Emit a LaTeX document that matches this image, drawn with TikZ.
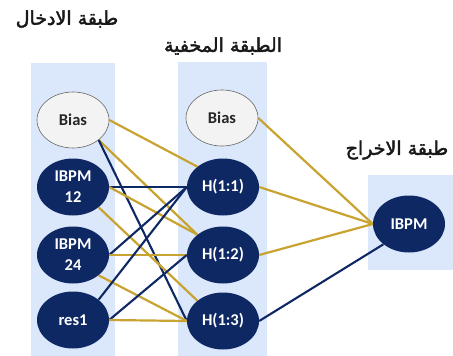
\documentclass[tikz,border=0pt]{standalone}
\usepackage{fontspec}
\setsansfont{Carlito}
\newfontfamily\arabicfont[Script=Arabic,FakeBold=2.2]{DejaVu Sans}
\TeXXeTstate=1
\usetikzlibrary{shapes.geometric}
\definecolor{navy}{RGB}{14,40,100}
\definecolor{gold}{RGB}{201,163,48}
\definecolor{panel}{RGB}{219,231,250}
\definecolor{biasfill}{RGB}{243,243,243}
\pgfdeclarelayer{bg}
\pgfsetlayers{bg,main}

\begin{document}
\begin{tikzpicture}[x=1pt,y=-1pt,
  unit/.style={ellipse, minimum width=72pt, minimum height=57pt, inner sep=0pt,
    font=\sffamily\bfseries\fontsize{16.5}{21}\selectfont, align=center},
  neuron/.style={unit, fill=navy, text=white},
  biasunit/.style={unit, minimum height=56pt, fill=biasfill, draw=black!60, line width=0.6pt, text=black!85},
  panelbox/.style={fill=panel},
  posweight/.style={draw=gold, line width=2.2pt},
  negweight/.style={draw=navy, line width=2.1pt},
  layertitle/.style={font=\arabicfont\fontsize{19}{22}\selectfont, text=black!90}]
\useasboundingbox (0,0) rectangle (453,356);

% layer titles
\node[layertitle] (tin)  at (67,19)  {\beginR طبقة الادخال\endR};
\node[layertitle] (thid) at (223,46) {\beginR الطبقة المخفية\endR};
\node[layertitle] (tout) at (397,150) {\beginR طبقة الاخراج\endR};

% input layer
\node[biasunit] (bin) at (73,120) {Bias};
\node[neuron] (i12) at (73,187) {IBPM\\12};
\node[neuron] (i24) at (73,255) {IBPM\\24};
\node[neuron] (res) at (73,320) {res1};

% hidden layer
\node[biasunit] (bh) at (222,118) {Bias};
\node[neuron] (h1) at (223,187) {H(1:1)};
\node[neuron] (h2) at (223,255) {H(1:2)};
\node[neuron] (h3) at (223,321) {H(1:3)};

% output layer
\node[neuron] (out) at (409,224) {IBPM};

\begin{pgfonlayer}{bg}
  % page and column panels
  \fill[white] (0,0) rectangle (453,356);
  \path[panelbox] (31,63) rectangle (115,356);
  \path[panelbox] (178,62) rectangle (267,356);
  \path[panelbox] (368,175) rectangle (453,270);

  % input -> hidden weights
  \draw[posweight] (bin.east) -- (h1.north west);
  \draw[posweight] (bin.south east) -- (h2.north west);
  \draw[negweight] (bin.south east) -- (h3.west);
  \draw[negweight] (i12.east) -- (h1.west);
  \draw[posweight] (i12.east) -- (h2.north west);
  \draw[posweight] (i12.south east) -- (h3.north west);
  \draw[negweight] (i24.east) -- (h1.west);
  \draw[posweight] (i24.east) -- (h2.west);
  \draw[posweight] (i24.south east) -- (h3.west);
  \draw[negweight] (res.north east) -- (h1.west);
  \draw[negweight] (res.east) -- (h2.west);
  \draw[posweight] (res.east) -- (h3.west);

  % hidden -> output weights
  \draw[posweight] (bh.east) -- (out.west);
  \draw[posweight] (h1.east) -- (out.west);
  \draw[posweight] (h2.east) -- (out.west);
  \draw[negweight] (h3.east) -- (out.south west);
\end{pgfonlayer}
\end{tikzpicture}
\end{document}
